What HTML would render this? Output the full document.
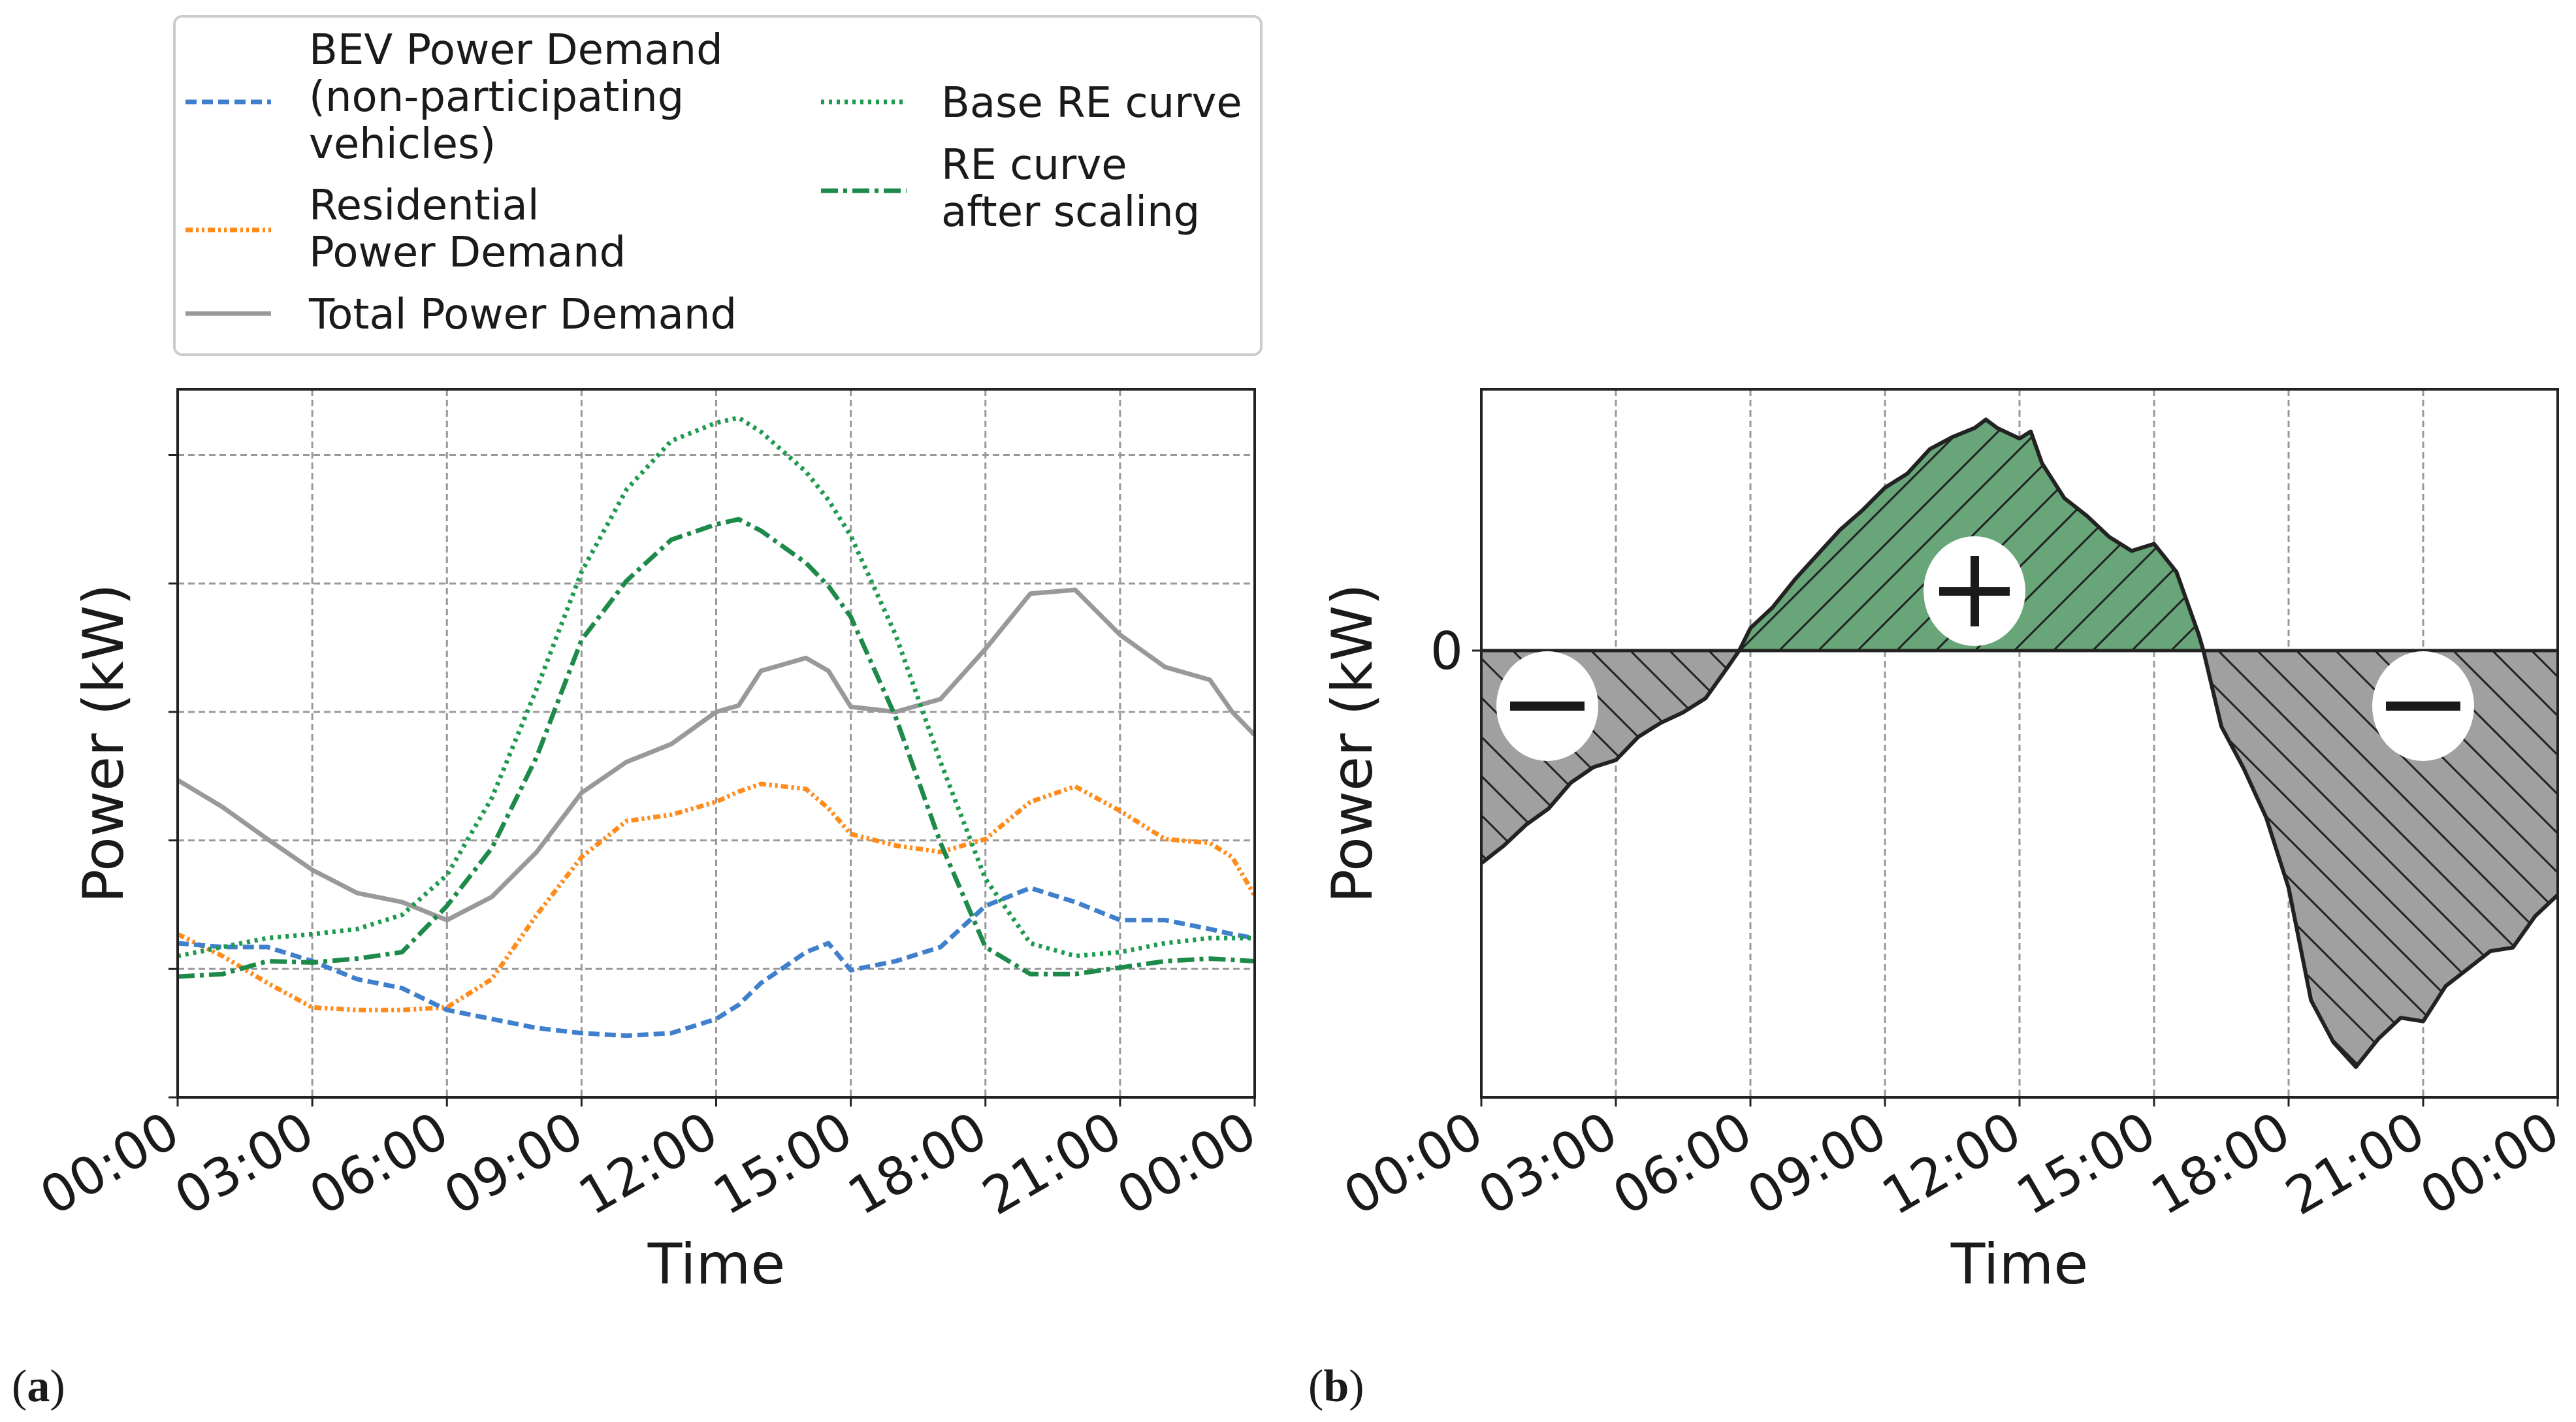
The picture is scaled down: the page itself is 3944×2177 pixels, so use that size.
<!DOCTYPE html>
<html><head><meta charset="utf-8">
<style>html,body{margin:0;padding:0;background:#fff}svg{display:block}text{font-family:"DejaVu Sans","Liberation Sans",sans-serif;fill:#1a1a1a}</style>
</head><body>
<svg id="svg" width="3944" height="2177" viewBox="0 0 3944 2177" xmlns="http://www.w3.org/2000/svg">
<defs>
<pattern id="hatchG" patternUnits="userSpaceOnUse" width="60" height="60">
<path d="M-15,15 l30,-30 M0,60 l60,-60 M45,75 l30,-30" stroke="#222" stroke-width="3"/>
</pattern>
<pattern id="hatchR" patternUnits="userSpaceOnUse" width="60" height="60">
<path d="M-15,45 l30,30 M0,0 l60,60 M45,-15 l30,30" stroke="#222" stroke-width="3"/>
</pattern>
</defs>
<g id="chartA"></g>
<g id="chartB"></g>
</svg>
<script>
// ---- Chart (a) data (hours, grid units) ----
const hoursA = [0,1,2,3,4,5,6,7,8,9,10,11,12,12.5,13,14,14.5,15,16,17,18,19,20,21,22,23,23.5,24];
const totalDemand = [2.47,2.26,2.01,1.77,1.59,1.52,1.38,1.56,1.91,2.37,2.61,2.75,3.0,3.05,3.32,3.42,3.32,3.04,3.0,3.1,3.49,3.92,3.95,3.6,3.35,3.25,3.0,2.82];
const residentialDemand = [1.27,1.10,0.89,0.70,0.68,0.68,0.70,0.92,1.42,1.87,2.15,2.2,2.30,2.38,2.44,2.40,2.25,2.05,1.96,1.91,2.01,2.30,2.42,2.23,2.01,1.98,1.87,1.57];
const bevDemand = [1.20,1.17,1.17,1.06,0.92,0.85,0.68,0.61,0.54,0.50,0.48,0.50,0.61,0.72,0.89,1.13,1.2,0.99,1.06,1.17,1.49,1.63,1.52,1.38,1.38,1.31,1.27,1.24];
const baseRE = [1.10,1.17,1.24,1.27,1.31,1.42,1.73,2.33,3.18,4.09,4.73,5.11,5.25,5.29,5.18,4.87,4.65,4.37,3.6,2.61,1.70,1.20,1.10,1.13,1.20,1.24,1.24,1.24];
const scaledRE = [0.94,0.96,1.06,1.05,1.08,1.13,1.49,1.94,2.65,3.56,4.02,4.34,4.46,4.5,4.41,4.16,3.98,3.74,2.96,1.98,1.17,0.96,0.96,1.01,1.06,1.08,1.07,1.06];
const xTickLabels = ["00:00","03:00","06:00","09:00","12:00","15:00","18:00","21:00","00:00"];
const yTicksA = [0,1,2,3,4,5];
// ---- Chart (b) data ----
const hoursB = [0,0.5,1,1.5,2,2.5,3,3.5,4,4.5,5,5.5,5.75,6,6.5,7,7.5,8,8.5,9,9.5,10,10.5,11,11.25,11.5,12,12.25,12.5,13,13.5,14,14.5,15,15.5,16,16.1,16.5,17,17.5,18,18.5,19,19.5,20,20.5,21,21.5,22,22.5,23,23.5,24];
const netPower = [-3.03,-2.78,-2.48,-2.25,-1.88,-1.66,-1.56,-1.23,-1.03,-0.88,-0.68,-0.23,0,0.32,0.62,1.02,1.37,1.72,2.0,2.32,2.52,2.87,3.04,3.17,3.29,3.17,3.02,3.12,2.67,2.17,1.92,1.62,1.42,1.52,1.12,0.22,0,-1.08,-1.68,-2.38,-3.38,-4.98,-5.58,-5.93,-5.53,-5.23,-5.28,-4.78,-4.53,-4.28,-4.23,-3.78,-3.48];
const yTicksB = [0];

const NS="http://www.w3.org/2000/svg";
function mk(tag,attrs,parent,txt){const e=document.createElementNS(NS,tag);for(const k in attrs)e.setAttribute(k,attrs[k]);if(txt!==undefined)e.textContent=txt;parent.appendChild(e);return e;}

// ===== Chart A =====
const A=document.getElementById('chartA');
const aL=272,aR=1921,aT=596,aB=1680,unit=196.7;
const xA=h=>aL+(aR-aL)*h/24, yA=v=>aB-v*unit;
xTickLabels.forEach((l,i)=>{const x=xA(i*3);
 if(i>0&&i<8){const g=mk('line',{x1:x,x2:x,y1:aT,y2:aB,stroke:'#999','stroke-width':3,'stroke-dasharray':'10,6'},A);
 }
 const t=mk('line',{x1:x,x2:x,y1:aB,y2:aB+14,stroke:'#222','stroke-width':3},A);
 
 const tx=mk('text',{x:x+8,y:aB+68,'font-size':79,'text-anchor':'end',transform:`rotate(-30 ${x+8} ${aB+68})`},A,l);
 
});
yTicksA.forEach(v=>{const y=yA(v);
 if(v>0){const g=mk('line',{x1:aL,x2:aR,y1:y,y2:y,stroke:'#999','stroke-width':3,'stroke-dasharray':'10,6'},A);
 }
 const t=mk('line',{x1:aL-14,x2:aL,y1:y,y2:y,stroke:'#222','stroke-width':3},A);
 
});
function series(arr,color,dash,name,w){const d=arr.map((v,i)=>(i?'L':'M')+xA(hoursA[i]).toFixed(1)+','+yA(v).toFixed(1)).join(' ');
 const p=mk('path',{d,fill:'none',stroke:color,'stroke-width':w||7,'stroke-dasharray':dash,'stroke-linejoin':'round'},A);
 }
series(totalDemand,'#999999','none','total-demand-line');
series(residentialDemand,'#ff8c1a','11,5,4,5,4,5','residential-demand-line');
series(bevDemand,'#3f7fcb','17,8','bev-demand-line');
series(baseRE,'#1f9a4f','5,7','base-re-line');
series(scaledRE,'#1e8a4a','26,8,6,8','scaled-re-line');
const fa=mk('rect',{x:aL,y:aT,width:aR-aL,height:aB-aT,fill:'none',stroke:'#222','stroke-width':4},A);

let t;
t=mk('text',{x:1097,y:1965,'font-size':86,'text-anchor':'middle'},A,'Time');
t=mk('text',{x:188,y:1138,'font-size':86,'text-anchor':'middle',transform:'rotate(-90 188 1138)'},A,'Power (kW)');
t=mk('text',{x:18,y:2145,'font-size':70,style:'font-family:"Liberation Serif",serif'},A,'(');
mk('tspan',{'font-weight':'bold'},t,'a');mk('tspan',{},t,')');
// legend
const L=mk('g',{},A);
mk('rect',{x:267,y:25,width:1664,height:518,rx:12,fill:'#fff',stroke:'#ccc','stroke-width':4},L);
const lg=[
 {c:'#3f7fcb',d:'17,8',x:284,ly:156,tx:473,lines:['BEV Power Demand','(non-participating','vehicles)'],ty:[98,170,242],n:'legend-entry-bev'},
 {c:'#ff8c1a',d:'11,5,4,5,4,5',x:284,ly:352,tx:473,lines:['Residential','Power Demand'],ty:[336,408],n:'legend-entry-residential'},
 {c:'#999999',d:'none',x:284,ly:480,tx:473,lines:['Total Power Demand'],ty:[503],n:'legend-entry-total'},
 {c:'#1f9a4f',d:'5,7',x:1257,ly:156,tx:1441,lines:['Base RE curve'],ty:[179],n:'legend-entry-base-re'},
 {c:'#1e8a4a',d:'26,8,6,8',x:1257,ly:292,tx:1441,lines:['RE curve','after scaling'],ty:[274,346],n:'legend-entry-scaled-re'}];
lg.forEach(e=>{const g=mk('g',{},L);
 mk('line',{x1:e.x,x2:e.x+131,y1:e.ly,y2:e.ly,stroke:e.c,'stroke-width':7,'stroke-dasharray':e.d},g);
 e.lines.forEach((s,i)=>mk('text',{x:e.tx,y:e.ty[i],'font-size':64},g,s));});

// ===== Chart B =====
const B=document.getElementById('chartB');
const bL=2268,bR=3916,bT=596,bB=1680,bZ=996,bU=107.5;
const xB=h=>bL+(bR-bL)*h/24, yB=v=>bZ-v*bU;
xTickLabels.forEach((l,i)=>{const x=xB(i*3);
 if(i>0&&i<8){const g=mk('line',{x1:x,x2:x,y1:bT,y2:bB,stroke:'#999','stroke-width':3,'stroke-dasharray':'10,6'},B);
 }
 const tk=mk('line',{x1:x,x2:x,y1:bB,y2:bB+14,stroke:'#222','stroke-width':3},B);
 
 const tx=mk('text',{x:x+8,y:bB+68,'font-size':79,'text-anchor':'end',transform:`rotate(-30 ${x+8} ${bB+68})`},B,l);
 
});
const pts=netPower.map((v,i)=>[xB(hoursB[i]),yB(v)]);
const areaD='M'+xB(hoursB[0])+','+bZ+' '+pts.map(p=>'L'+p[0].toFixed(1)+','+p[1].toFixed(1)).join(' ')+' L'+xB(hoursB[hoursB.length-1])+','+bZ+' Z';
mk('clipPath',{id:'clipPos'},B);mk('rect',{x:bL,y:bT,width:bR-bL,height:bZ-bT},document.getElementById('clipPos'));
mk('clipPath',{id:'clipNeg'},B);mk('rect',{x:bL,y:bZ,width:bR-bL,height:bB-bZ},document.getElementById('clipNeg'));
let p;
p=mk('path',{d:areaD,fill:'#68a579','clip-path':'url(#clipPos)'},B);
mk('path',{d:areaD,fill:'url(#hatchG)','clip-path':'url(#clipPos)'},B);
p=mk('path',{d:areaD,fill:'#a0a0a0','clip-path':'url(#clipNeg)'},B);
mk('path',{d:areaD,fill:'url(#hatchR)','clip-path':'url(#clipNeg)'},B);
p=mk('path',{d:'M'+pts.map(q=>q[0].toFixed(1)+','+q[1].toFixed(1)).join(' L'),fill:'none',stroke:'#222','stroke-width':6,'stroke-linejoin':'round'},B);

yTicksB.forEach(v=>{const y=yB(v);
 const z=mk('line',{x1:bL,x2:bR,y1:y,y2:y,stroke:'#222','stroke-width':5},B);
 const tk=mk('line',{x1:bL-14,x2:bL,y1:y,y2:y,stroke:'#222','stroke-width':3},B);
 const tx=mk('text',{x:bL-28,y:y+28,'font-size':79,'text-anchor':'end'},B,String(v));});
const fb=mk('rect',{x:bL,y:bT,width:bR-bL,height:bB-bT,fill:'none',stroke:'#222','stroke-width':4},B);

[[2369,1081,'−','minus-badge-left'],[3023,905,'+','plus-badge'],[3710,1081,'−','minus-badge-right']].forEach(b=>{
 const g=mk('g',{},B);
 mk('ellipse',{cx:b[0],cy:b[1],rx:78,ry:84,fill:'#fff'},g);
 if(b[2]==='+'){mk('rect',{x:b[0]-54,y:b[1]-6,width:108,height:13,fill:'#1a1a1a'},g);mk('rect',{x:b[0]-6,y:b[1]-54,width:13,height:108,fill:'#1a1a1a'},g);}
 else mk('rect',{x:b[0]-57,y:b[1]-7,width:114,height:14,fill:'#1a1a1a'},g);
});
t=mk('text',{x:3092,y:1965,'font-size':86,'text-anchor':'middle'},B,'Time');
t=mk('text',{x:2100,y:1138,'font-size':86,'text-anchor':'middle',transform:'rotate(-90 2100 1138)'},B,'Power (kW)');
t=mk('text',{x:2003,y:2145,'font-size':70,style:'font-family:"Liberation Serif",serif'},B,'(');
mk('tspan',{'font-weight':'bold'},t,'b');mk('tspan',{},t,')');
</script>
</body></html>
